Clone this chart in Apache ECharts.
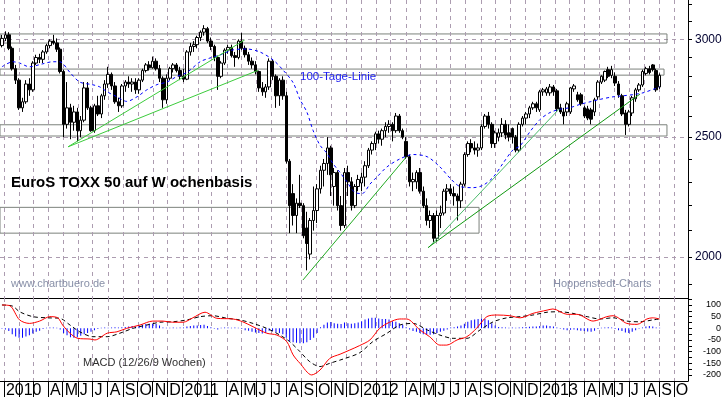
<!DOCTYPE html>
<html><head><meta charset="utf-8">
<script src="https://cdn.jsdelivr.net/npm/echarts@6/dist/echarts.min.js"></script>
<style>html,body{margin:0;padding:0;background:#fff}#c{width:723px;height:397px}</style>
</head><body><div id="c"></div>
<script>
// ---- weekly candles (Monday of each week, first = 2009-12-28) ----
const firstMonday = '2009-12-28';
const open = [2965,3005,3025,2950,2840,2780,2640,2670,2760,2730,2870,2900,2890,2930,2965,2990,2980,2945,2825,2560,2640,2570,2620,2530,2580,2740,2640,2530,2650,2610,2700,2760,2810,2750,2670,2650,2750,2770,2760,2770,2730,2780,2830,2860,2845,2880,2840,2790,2680,2790,2840,2860,2830,
2800,2785,2930,2960,2970,3010,3040,3060,2990,2960,2900,2800,2870,2940,2955,2910,2900,2990,2950,2915,2880,2860,2825,2740,2720,2745,2880,2800,2700,2780,2700,2390,2250,2160,2210,2200,2110,2010,2140,2180,2270,2350,2380,2450,2280,2340,2200,2120,2340,2300,2200,2280,
2295,2320,2370,2440,2470,2515,2490,2530,2550,2560,2530,2600,2530,2480,2410,2300,2300,2340,2260,2200,2140,2160,2070,2160,2170,2260,2270,2250,2240,2220,2290,2420,2470,2450,2440,2450,2550,2600,2560,2470,2500,2520,2560,2520,2540,2500,2440,2560,2590,2610,2640,2660,
2630,2720,2715,2715,2745,2725,2640,2620,2620,2620,2735,2705,2705,2640,2635,2630,2620,2695,2770,2780,2835,2805,2800,2760,2700,2615,2560,2615,2685,2730,2755,2815,2840,2860,2830,2745];
const high = [3025,3045,3040,2960,2860,2790,2690,2780,2790,2880,2915,2920,2940,2975,3000,3025,3005,2955,2835,2770,2660,2650,2640,2600,2770,2770,2650,2660,2700,2710,2780,2850,2820,2770,2690,2760,2780,2800,2790,2790,2790,2840,2870,2880,2905,2895,2860,2800,2810,2850,2870,2870,2850,
2840,2940,2980,2990,3020,3050,3080,3070,3010,2970,2910,2880,2950,2970,2970,2930,3000,3035,2965,2930,2900,2880,2830,2770,2760,2895,2890,2810,2790,2800,2720,2400,2290,2230,2330,2210,2175,2150,2280,2290,2370,2400,2500,2460,2360,2350,2240,2360,2370,2320,2290,2330,
2340,2390,2450,2480,2525,2530,2540,2570,2580,2570,2615,2610,2540,2500,2420,2340,2350,2360,2280,2230,2180,2170,2180,2200,2270,2290,2290,2280,2250,2300,2430,2480,2490,2480,2470,2560,2610,2620,2570,2530,2540,2590,2580,2560,2545,2510,2570,2600,2620,2650,2670,2670,
2730,2740,2745,2760,2755,2735,2660,2640,2670,2745,2760,2720,2715,2650,2650,2640,2690,2780,2805,2830,2850,2855,2820,2775,2710,2630,2630,2700,2740,2765,2835,2850,2855,2865,2840,2815];
const low = [2955,2990,2940,2830,2760,2630,2620,2660,2700,2720,2860,2870,2870,2920,2950,2970,2930,2815,2500,2540,2490,2530,2480,2500,2570,2630,2525,2520,2600,2590,2680,2740,2730,2660,2620,2640,2720,2740,2720,2710,2710,2770,2820,2830,2840,2830,2770,2640,2660,2780,2820,2820,2780,
2770,2780,2910,2930,2950,2990,3020,2980,2940,2880,2730,2790,2860,2920,2900,2850,2890,2940,2900,2860,2840,2810,2720,2700,2690,2730,2780,2640,2650,2680,2380,2090,2120,2090,2190,2070,1950,1990,2100,2130,2250,2280,2330,2240,2200,2180,2100,2110,2240,2180,2190,2260,
2260,2280,2360,2420,2440,2470,2460,2500,2520,2480,2520,2520,2490,2400,2280,2260,2270,2250,2190,2120,2110,2055,2060,2110,2160,2220,2240,2200,2140,2190,2280,2410,2430,2420,2410,2440,2540,2540,2450,2450,2480,2500,2490,2480,2470,2430,2430,2550,2560,2590,2630,2620,
2620,2700,2700,2700,2700,2620,2610,2560,2600,2610,2720,2670,2650,2590,2580,2560,2600,2680,2760,2770,2790,2790,2750,2690,2600,2510,2550,2600,2670,2720,2745,2805,2810,2825,2720,2735];
const close = [3005,3025,2950,2840,2780,2640,2670,2760,2730,2870,2900,2890,2930,2965,2990,2980,2945,2825,2560,2640,2570,2620,2530,2580,2740,2640,2530,2650,2610,2700,2760,2810,2750,2670,2650,2750,2770,2760,2770,2730,2780,2830,2860,2845,2880,2840,2790,2680,2790,2840,2860,2830,2800,
2785,2930,2960,2970,3010,3040,3060,2990,2960,2900,2800,2870,2940,2955,2910,2900,2990,2950,2915,2880,2860,2825,2740,2720,2745,2880,2800,2700,2780,2700,2390,2200,2160,2210,2200,2080,2050,2140,2180,2270,2350,2380,2450,2330,2340,2200,2120,2340,2300,2200,2280,2310,
2320,2370,2440,2470,2515,2490,2530,2550,2560,2530,2600,2530,2500,2410,2300,2310,2340,2260,2200,2140,2160,2070,2160,2170,2260,2270,2250,2240,2220,2290,2420,2470,2450,2440,2450,2550,2600,2560,2470,2520,2520,2560,2510,2500,2500,2440,2560,2590,2610,2640,2660,2640,
2720,2730,2735,2745,2720,2635,2620,2600,2660,2740,2750,2680,2660,2600,2590,2585,2680,2770,2800,2825,2800,2835,2765,2705,2610,2560,2620,2690,2730,2755,2825,2840,2820,2835,2730,2805];
// MACD histogram, one value per week
const macdHist = [-2,-5,-12,-25,-35,-40,-40,-35,-30,-22,-15,-10,-3,2,3,3,2,-5,-20,-30,-38,-40,-38,-32,-25,-20,-15,-8,-3,2,3,2,3,5,3,5,6,8,10,8,12,15,18,20,20,18,12,3,2,2,3,2,3,
3,8,10,12,12,14,15,10,5,-2,-5,2,3,3,2,3,2,-3,-8,-10,-15,-18,-20,-22,-20,-10,-12,-18,-20,-25,-40,-55,-60,-62,-64,-64,-60,-50,-40,-20,5,15,25,27,22,20,18,25,22,20,22,25,
30,38,42,45,45,42,40,40,38,30,28,22,15,5,-5,-12,-15,-20,-25,-28,-28,-25,-20,-15,-10,-5,3,5,8,12,20,28,35,38,40,42,40,35,22,12,6,5,3,2,3,2,4,5,6,7,8,8,
10,12,12,10,8,3,-2,-5,-8,-6,-5,-8,-10,-12,-14,-15,-10,-3,2,4,5,3,-3,-8,-12,-18,-20,-15,-8,-2,4,8,10,8,3,2];
// 100-Tage-Linie
const ma100 = [['2009-12-28',2850],['2010-01-19',2877],['2010-02-02',2870],['2010-02-22',2850],['2010-03-20',2865],['2010-04-11',2877],['2010-04-25',2877],['2010-05-16',2820],['2010-06-05',2770],['2010-06-30',2757],['2010-07-16',2745],['2010-07-31',2720],['2010-08-20',2695],['2010-09-09',2672],['2010-09-30',2695],['2010-10-20',2730],['2010-11-10',2757],['2010-11-30',2770],['2010-12-21',2800],['2011-01-10',2820],['2011-02-06',2877],['2011-02-26',2897],['2011-03-18',2913],['2011-04-14',2941],['2011-05-13',2946],['2011-06-08',2930],['2011-07-05',2887],['2011-07-25',2834],['2011-08-15',2767],['2011-08-29',2682],['2011-09-12',2620],['2011-09-25',2530],['2011-10-09',2462],['2011-10-23',2426],['2011-11-04',2381],['2011-11-19',2340],['2011-12-03',2300],['2011-12-19',2255],['2012-01-03',2250],['2012-01-19',2290],['2012-02-02',2320],['2012-02-23',2365],['2012-03-20',2400],['2012-04-16',2420],['2012-05-15',2410],['2012-06-10',2365],['2012-07-01',2315],['2012-07-21',2280],['2012-08-17',2275],['2012-09-06',2285],['2012-09-27',2320],['2012-10-17',2381],['2012-11-06',2440],['2012-11-21',2460],['2012-12-11',2525],['2013-01-01',2584],['2013-01-21',2617],['2013-02-10',2633],['2013-03-03',2641],['2013-03-23',2657],['2013-04-13',2670],['2013-05-03',2682],['2013-05-30',2695],['2013-06-19',2700],['2013-07-10',2706],['2013-07-30',2715],['2013-08-19',2732],['2013-09-02',2745]];
const macdLine = [['2009-12-28',100],['2010-01-13',97],['2010-02-02',36],['2010-02-22',21],['2010-03-15',31],['2010-04-05',50],['2010-04-21',45],['2010-05-01',14],['2010-05-16',-21],['2010-06-01',-43],['2010-06-26',-46],['2010-07-06',-50],['2010-07-31',-21],['2010-08-20',-15],['2010-09-09',0],['2010-10-06',14],['2010-11-01',31],['2010-11-22',31],['2010-12-12',26],['2011-01-02',26],['2011-01-22',45],['2011-02-16',69],['2011-03-12',43],['2011-04-14',40],['2011-05-04',28],['2011-05-25',7],['2011-06-22',-21],['2011-07-13',-29],['2011-08-02',-57],['2011-08-15',-114],['2011-08-29',-150],['2011-09-22',-200],['2011-10-09',-179],['2011-10-29',-129],['2011-11-19',-111],['2011-12-09',-93],['2011-12-29',-74],['2012-01-19',-50],['2012-02-08',0],['2012-02-28',26],['2012-03-20',40],['2012-04-03',40],['2012-04-30',-7],['2012-05-20',-36],['2012-06-10',-72],['2012-06-24',-72],['2012-07-15',-50],['2012-08-04',-36],['2012-08-24',0],['2012-09-14',50],['2012-10-05',57],['2012-10-31',54],['2012-11-21',45],['2012-12-17',64],['2013-01-15',78],['2013-01-27',83],['2013-02-25',60],['2013-03-17',60],['2013-04-19',31],['2013-05-17',50],['2013-05-30',54],['2013-06-27',21],['2013-07-18',17],['2013-08-07',40],['2013-08-19',45],['2013-09-02',40]];
const signalLine = [['2009-12-28',100],['2010-01-19',95],['2010-02-02',71],['2010-03-01',50],['2010-03-30',45],['2010-04-25',43],['2010-05-16',14],['2010-06-05',-15],['2010-07-02',-36],['2010-07-31',-36],['2010-08-26',-21],['2010-09-22',0],['2010-10-20',14],['2010-11-16',26],['2010-12-12',28],['2011-01-10',36],['2011-02-06',50],['2011-03-04',54],['2011-04-02',43],['2011-04-28',36],['2011-05-25',21],['2011-06-22',0],['2011-07-19',-29],['2011-08-08',-57],['2011-08-29',-100],['2011-09-18',-143],['2011-10-09',-164],['2011-10-29',-150],['2011-11-25',-132],['2011-12-29',-105],['2012-01-25',-57],['2012-02-23',-21],['2012-03-20',14],['2012-04-16',21],['2012-05-15',-7],['2012-06-10',-29],['2012-07-07',-43],['2012-08-04',-43],['2012-08-31',-7],['2012-09-27',28],['2012-10-25',45],['2012-11-21',50],['2012-12-17',57],['2013-01-15',69],['2013-02-10',71],['2013-03-09',64],['2013-04-07',50],['2013-05-03',40],['2013-05-30',45],['2013-06-27',31],['2013-07-24',28],['2013-08-19',36],['2013-09-02',40]];
// trend lines and horizontal zones (date, price)
const trendA = [['2010-05-12',2455],['2011-06-04',2831]];
const trendB = [['2010-05-12',2455],['2011-05-08',2996]];
const trendC = [['2011-09-04',1915],['2012-04-02',2408]];
const trendD = [['2012-05-17',2033],['2013-02-08',2633]];
const trendE = [['2012-05-17',2035],['2013-07-24',2709]];
const zones = [['2009-12-24','2013-09-17',2979,3030],['2009-12-24','2013-09-11',2806,2838],['2009-12-24','2013-09-17',2505,2558],['2009-12-24','2012-08-29',2090,2193]];
// axes
const xStart = '2009-12-24', xEnd = '2013-10-30';
const priceMin = 1852, priceMax = 3228;
const priceTicks = [1900,2000,2100,2200,2300,2400,2500,2600,2700,2800,2900,3000,3100,3200];
const priceLabels = [2000,2500,3000];
const macdMin = -226, macdMax = 130;
const macdTicks = [-200,-175,-150,-125,-100,-75,-50,-25,0,25,50,75,100,125];
const macdLabels = [-200,-150,-100,-50,0,50,100];
const monthLetters = ['J','F','M','A','M','J','J','A','S','O','N','D'];

function day(s){const p=s.split('-').map(Number);return new Date(p[0],p[1]-1,p[2]).getTime();}
const lg = v => Math.log10(v);
const fm = day(firstMonday);
const weekTimes = close.map((_, i) => { const d = new Date(fm); d.setDate(d.getDate() + 7*i); return d.getTime(); });
const candleData = weekTimes.map((t,i) => [t, lg(open[i]), lg(close[i]), lg(low[i]), lg(high[i])]);
const histData = weekTimes.map((t,i) => [t, macdHist[i]]);
const monthStarts = [];
for (let y = 2010; y <= 2013; y++) for (let m = 0; m < 12; m++) { const t = new Date(y, m, 1).getTime(); if (t <= day(xEnd)) monthStarts.push(t); }
const monthLabelVals = monthStarts.filter(t => { const m = new Date(t).getMonth(); return m !== 1 && m !== 2; });
const pricePts = a => a.map(p => [day(p[0]), lg(p[1])]);
const datePts = a => a.map(p => [day(p[0]), p[1]]);

const gridCol = '#ac9cb0';
const font = '"Liberation Sans", Arial, sans-serif';
const trendSeries = (d, color, w) => ({type:'line', xAxisIndex:0, yAxisIndex:0, data: pricePts(d), symbol:'none', silent:true, z:5, lineStyle:{color, width:w}});
// vertical month grid lines (one per month start), drawn by a custom series over the whole grid height
const vLines = (xi, yi, anchorY) => ({type:'custom', xAxisIndex:xi, yAxisIndex:yi, silent:true, z:1, clip:false,
  data: monthStarts.map(t => [t, anchorY]), encode:{x:0, y:1},
  renderItem: (params, api) => {
    const cs = params.coordSys;
    const x = Math.round(api.coord([api.value(0), api.value(1)])[0]) + 0.5;
    return {type:'line', silent:true, shape:{x1:x, y1:cs.y, x2:x, y2:cs.y + cs.height},
            style:{stroke:gridCol, lineWidth:1, lineDash:[4,4], fill:null}};
  }});

const option = {
  animation: false,
  backgroundColor: '#ffffff',
  grid: [
    {left:0, right:35, top:0, height:298, outerBoundsMode:'none', containLabel:false},
    {left:0, right:35, top:298, height:83, outerBoundsMode:'none', containLabel:false}
  ],
  xAxis: [
    {type:'value', gridIndex:0, min:day(xStart), max:day(xEnd), scale:true,
     axisLine:{show:true, onZero:false, lineStyle:{color:'#000', width:1}},
     axisTick:{show:false}, axisLabel:{show:false}, splitLine:{show:false}},
    {type:'value', gridIndex:1, min:day(xStart), max:day(xEnd), scale:true,
     axisLine:{show:true, onZero:false, lineStyle:{color:'#000', width:1}},
     axisTick:{show:true, customValues: monthStarts, length:17, inside:false, lineStyle:{color:'#000', width:1}},
     axisLabel:{show:true, customValues: monthLabelVals, align:'left', margin:2, padding:[0,0,0,2],
       fontSize:16, fontFamily:'"Liberation Sans Narrow", "Arial Narrow", "Liberation Sans", sans-serif', color:'#000',
       formatter: v => { const d = new Date(v); return d.getMonth() === 0 ? String(d.getFullYear()) : monthLetters[d.getMonth()]; }},
     splitLine:{show:false}}
  ],
  yAxis: [
    {type:'value', gridIndex:0, position:'right', min:lg(priceMin), max:lg(priceMax),
     axisLine:{show:true, onZero:false, lineStyle:{color:'#000', width:1}},
     axisTick:{show:true, customValues: priceLabels.map(lg), length:4, lineStyle:{color:'#000'}},
     axisLabel:{show:true, customValues: priceLabels.map(lg), margin:7, fontSize:12, fontFamily:font, color:'#000030',
       formatter: v => String(Math.round(Math.pow(10, v)))},
     splitLine:{show:true, lineStyle:{color:gridCol, type:[4,4], width:1}}},
    {type:'value', gridIndex:1, position:'right', min:macdMin, max:macdMax,
     axisLine:{show:true, onZero:false, lineStyle:{color:'#000', width:1}},
     axisTick:{show:true, customValues: macdTicks, length:4, lineStyle:{color:'#000'}},
     axisLabel:{show:true, customValues: macdLabels, align:'right', margin:33, fontSize:9, fontFamily:font, color:'#000'},
     splitLine:{show:false}},
    {type:'value', gridIndex:0, position:'right', min:lg(priceMin), max:lg(priceMax),
     axisLine:{show:false},
     axisTick:{show:true, customValues: priceTicks.map(lg), length:4, lineStyle:{color:'#000'}},
     axisLabel:{show:false}, splitLine:{show:false}}
  ],
  series: [
    vLines(0, 0, lg(2000)),
    vLines(1, 1, 0),
    {type:'candlestick', xAxisIndex:0, yAxisIndex:0, data: candleData, barWidth:3, silent:true, z:3,
     itemStyle:{color:'#ffffff', color0:'#000000', borderColor:'#000000', borderColor0:'#000000', borderWidth:1}},
    {type:'line', xAxisIndex:0, yAxisIndex:0, data: pricePts(ma100), symbol:'none', smooth:0.3, silent:true, z:4,
     lineStyle:{color:'#0000ff', width:1, type:[3,3]},
     markArea:{silent:true, label:{show:false}, itemStyle:{color:'rgba(0,0,0,0)', borderColor:'#7c827c', borderWidth:1},
       data: zones.map(z => [{xAxis:day(z[0]), yAxis:lg(z[2])}, {xAxis:day(z[1]), yAxis:lg(z[3])}])}},
    trendSeries(trendA, '#3ccc3c', 1),
    trendSeries(trendB, '#3ccc3c', 1),
    trendSeries(trendC, '#22aa22', 1),
    trendSeries(trendD, '#4cbb6c', 1),
    trendSeries(trendE, '#119911', 1),
    {type:'bar', xAxisIndex:1, yAxisIndex:1, data: histData, barWidth:1, silent:true, itemStyle:{color:'#0000ff'}},
    {type:'line', xAxisIndex:1, yAxisIndex:1, data: datePts(signalLine), symbol:'none', smooth:0.3, silent:true,
     lineStyle:{color:'#000000', width:1, type:[4,3]}},
    {type:'line', xAxisIndex:1, yAxisIndex:1, data: datePts(macdLine), symbol:'none', smooth:0.3, silent:true,
     lineStyle:{color:'#ff0000', width:1}}
  ],
  graphic: [
    {type:'text', left:11, top:175, silent:true, z:10, style:{text:'EuroS TOXX 50 auf W ochenbasis', fontSize:15, fontWeight:'bold', fontFamily:font, fill:'#000'}},
    {type:'text', left:300, top:71, silent:true, z:10, style:{text:'100-Tage-Linie', fontSize:11.5, fontFamily:font, fill:'#1c1cf0'}},
    {type:'text', left:11, top:278, silent:true, z:10, style:{text:'www.chartbuero.de', fontSize:11, fontFamily:font, fill:'#8890a8'}},
    {type:'text', left:553, top:278, silent:true, z:10, style:{text:'Hoppenstedt-Charts', fontSize:11, fontFamily:font, fill:'#8890a8'}},
    {type:'text', left:83, top:357, silent:true, z:10, style:{text:'MACD (12/26/9 Wochen)', fontSize:11, fontFamily:font, fill:'#303030'}}
  ]
};
const chart = echarts.init(document.getElementById('c'));
chart.setOption(option);
</script>
</body></html>
